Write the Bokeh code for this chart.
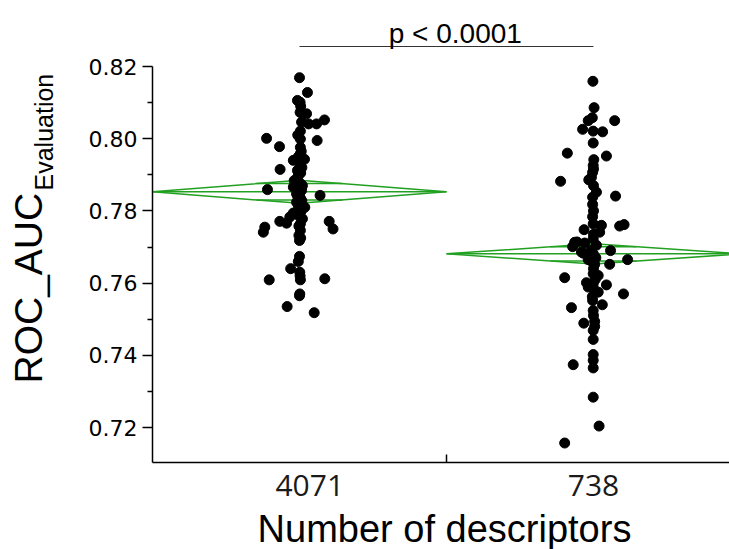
import math
from bokeh.plotting import figure
from bokeh.models import Range1d, FixedTicker, PrintfTickFormatter
from bokeh.core.properties import value
from bokeh.embed import file_html
from bokeh.resources import INLINE

# ---------------- data ----------------
categories = ["4071", "738"]
label_pos = [0.535, 1.5]          # tick-label positions of the two groups
separator = [1.0]                 # tick between the groups

values_4071 = [0.8169, 0.8128, 0.8106, 0.8101, 0.8073, 0.8069, 0.8046, 0.8041, 0.8041, 0.8052,
               0.8021, 0.8001, 0.7995, 0.7978, 0.7999, 0.7976, 0.7958, 0.7943, 0.7940, 0.7930,
               0.7915, 0.7912, 0.7898, 0.7884, 0.7875, 0.7859, 0.7866, 0.7857, 0.7847, 0.7843,
               0.7834, 0.7824, 0.7810, 0.7806, 0.7794, 0.7783, 0.7783, 0.7771, 0.7766, 0.7764,
               0.7771, 0.7750, 0.7755, 0.7741, 0.7746, 0.7732, 0.7718, 0.7674, 0.7640, 0.7630,
               0.7609, 0.7609, 0.7612, 0.7570, 0.7535, 0.7518,
               0.8090, 0.8010, 0.7965, 0.7950, 0.7920, 0.7905, 0.7890, 0.7870, 0.7852, 0.7840,
               0.7828, 0.7815, 0.7800, 0.7790, 0.7778, 0.7758, 0.7725, 0.7660, 0.7620, 0.7565]
jitter_4071 = [0.000, 0.027, -0.007, 0.002, 0.002, 0.024, 0.007, 0.031, 0.058, 0.085,
               0.003, -0.112, 0.060, -0.068, 0.003, 0.003, 0.003, 0.017, -0.021, 0.003,
               -0.066, -0.007, -0.004, -0.018, 0.004, -0.109, -0.021, 0.007, -0.010, 0.070,
               0.004, -0.010, 0.018, -0.002, -0.021, 0.003, -0.033, -0.067, -0.044, 0.003,
               0.101, 0.114, -0.118, -0.123, 0.003, -0.002, 0.000, 0.000, -0.030, 0.001,
               -0.103, 0.003, 0.086, 0.001, -0.042, 0.050,
               0.004, -0.006, 0.006, -0.004, 0.008, 0.004, -0.008, 0.010, 0.002, -0.006,
               0.008, -0.004, 0.006, -0.008, 0.010, -0.002, 0.004, -0.004, 0.002, 0.000]

values_738 = [0.8159, 0.8086, 0.8058, 0.8050, 0.8050, 0.8026, 0.8021, 0.8019, 0.7988, 0.7960,
              0.7952, 0.7942, 0.7926, 0.7907, 0.7893, 0.7886, 0.7882, 0.7852, 0.7841, 0.7838,
              0.7818, 0.7784, 0.7764, 0.7760, 0.7748, 0.7741, 0.7758, 0.7762, 0.7723, 0.7713,
              0.7711, 0.7701, 0.7690, 0.7686, 0.7692, 0.7665, 0.7652, 0.7652, 0.7626, 0.7621,
              0.7615, 0.7601, 0.7598, 0.7595, 0.7589, 0.7575, 0.7570, 0.7552, 0.7540, 0.7532,
              0.7524, 0.7494, 0.7489, 0.7469, 0.7444, 0.7402, 0.7386, 0.7374, 0.7365, 0.7284,
              0.7204, 0.7157,
              0.7683, 0.7665, 0.7714, 0.7735, 0.7705, 0.7680, 0.7670, 0.7660, 0.7640, 0.7610,
              0.7585, 0.7562, 0.7510, 0.7480, 0.7800, 0.7870, 0.7916]
jitter_738 = [-0.002, 0.002, -0.004, -0.018, 0.072, -0.037, -0.001, 0.031, -0.001, -0.089,
              0.044, 0.001, -0.001, -0.003, -0.007, -0.016, -0.112, 0.010, 0.075, -0.003,
              -0.003, -0.003, -0.001, 0.027, -0.032, 0.021, 0.089, 0.104, -0.001, -0.064,
              -0.030, -0.071, 0.058, -0.041, -0.007, 0.116, 0.004, 0.055, -0.001, 0.016,
              -0.098, -0.024, -0.001, 0.044, -0.018, 0.016, 0.102, -0.003, 0.030, -0.075,
              -0.001, 0.004, -0.033, -0.001, -0.001, -0.001, -0.001, -0.069, -0.001, -0.001,
              0.019, -0.098,
              -0.035, -0.018, -0.056, 0.000, 0.010, 0.000, 0.008, -0.006, 0.000, 0.006,
              0.000, -0.004, 0.000, 0.004, 0.000, 0.000, 0.000]

means = [0.7853, 0.7681]
ci_half = [0.0032, 0.0028]
p_text = "p < 0.0001"
x_title = "Number of descriptors"
y_title = "ROC_AUC"
y_title_sub = "Evaluation"

y_ticks = [0.72, 0.74, 0.76, 0.78, 0.80, 0.82]
y_minor = [0.73, 0.75, 0.77, 0.79, 0.81]

GREEN = "#22a022"

# ---------------- figure ----------------
# the frame covers the whole canvas; axes are pinned with fixed_location
y_axis_lo, y_axis_hi = 0.7103, 0.82
p = figure(width=729, height=549,
           x_range=Range1d(-0.51701, 1.96259), y_range=Range1d(0.686205, 0.838283),
           output_backend="svg", toolbar_location=None,
           min_border_left=0, min_border_right=0,
           min_border_top=0, min_border_bottom=0)
p.outline_line_color = None
p.xgrid.visible = False
p.ygrid.visible = False
p.background_fill_color = "white"
p.border_fill_color = "white"

# y axis
ya = p.yaxis[0]
ya.fixed_location = 0
ya.ticker = FixedTicker(ticks=y_ticks, minor_ticks=y_minor)
ya.formatter = PrintfTickFormatter(format="%.2f")
ya.bounds = (y_axis_lo, y_axis_hi)
ya.axis_line_color = "black"
ya.axis_line_width = 1.5
ya.major_tick_line_color = "black"
ya.major_tick_line_width = 1.5
ya.minor_tick_line_color = "black"
ya.minor_tick_line_width = 1.5
ya.major_tick_out = 10
ya.major_tick_in = 0
ya.minor_tick_out = 5
ya.minor_tick_in = 0
ya.major_label_standoff = 5
ya.major_label_text_font = "DejaVu Sans"
ya.major_label_text_font_size = "22px"
ya.major_label_text_color = "black"

# x axis
xa = p.xaxis[0]
xa.fixed_location = y_axis_lo
xa.bounds = (0, 2.0)
xa.ticker = FixedTicker(ticks=label_pos, minor_ticks=separator)
xa.major_label_overrides = {label_pos[0]: categories[0], label_pos[1]: categories[1]}
xa.axis_line_color = "black"
xa.axis_line_width = 1.5
xa.major_tick_line_color = None
xa.major_tick_out = 0
xa.major_tick_in = 0
xa.minor_tick_line_color = "black"
xa.minor_tick_line_width = 1.5
xa.minor_tick_in = 8
xa.minor_tick_out = 0
xa.major_label_standoff = 12
xa.major_label_text_font = "Open Sans"
xa.major_label_text_font_size = "30px"
xa.major_label_text_color = "#1a1a1a"

# means diamonds
k = 1 / math.sqrt(2)
xs, ys = [], []
for i, (m, h) in enumerate(zip(means, ci_half)):
    c = i + 0.5
    xs.append([i, c, i + 1, c])
    ys.append([m, m + h, m, m - h])
p.patches(xs, ys, fill_color=None, line_color=GREEN, line_width=1.5)
p.segment(x0=[i for i in range(2)], x1=[i + 1 for i in range(2)],
          y0=means, y1=means, line_color=GREEN, line_width=1.5)
hw = 0.5 * (1 - k)
for sgn in (1, -1):
    p.segment(x0=[i + 0.5 - hw for i in range(2)], x1=[i + 0.5 + hw for i in range(2)],
              y0=[m + sgn * h * k for m, h in zip(means, ci_half)],
              y1=[m + sgn * h * k for m, h in zip(means, ci_half)],
              line_color=GREEN, line_width=1.5)

# points
p.scatter([0.5 + j for j in jitter_4071], values_4071, size=10, color="black")
p.scatter([1.5 + j for j in jitter_738], values_738, size=10, color="black")

# significance bracket
yb = 0.82 + 20 / 3610
yt = 0.82 + 33.2 / 3610
p.segment(x0=[0.5], x1=[1.5], y0=[yb], y1=[yb], line_color="#333333", line_width=1.2)
p.text(x=[1.03], y=[yt], text=[p_text], text_font=value("Liberation Sans"),
       text_font_size="28px", text_align="center", text_baseline="middle",
       text_color="black")

# axis titles
p.text(x=[-0.42177], y=[0.732188], text=[y_title], angle=math.pi / 2,
       text_font=value("Liberation Sans"), text_font_size="39px",
       text_align="left", text_baseline="middle", text_color="black")
p.text(x=[-0.36905], y=[0.785651], text=[y_title_sub], angle=math.pi / 2,
       text_font=value("Liberation Sans"), text_font_size="25px",
       text_align="left", text_baseline="middle", text_color="black")
p.text(x=[0.993197], y=[0.6918], text=[x_title],
       text_font=value("Liberation Sans"), text_font_size="38px",
       text_align="center", text_baseline="middle", text_color="black")

open("out.html", "w").write(file_html(p, INLINE))
